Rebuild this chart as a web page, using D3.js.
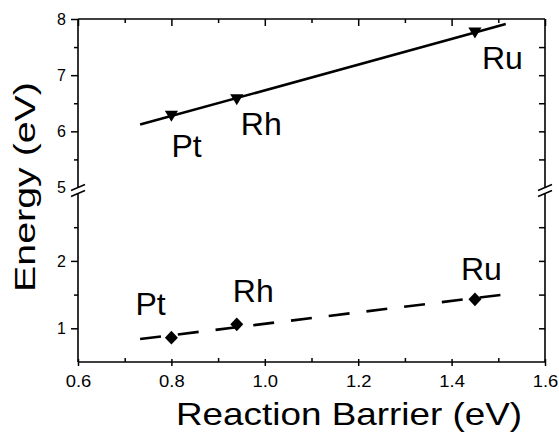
<!DOCTYPE html>
<html>
<head>
<meta charset="utf-8">
<script src="https://cdn.jsdelivr.net/npm/d3@7"></script>
<style>
  body { margin: 0; background: #fff; }
  svg { display: block; font-family: "Liberation Sans", Arial, Helvetica, sans-serif; }
</style>
</head>
<body>
<svg width="559" height="432"></svg>
<script>
// data
var metals = ["Pt", "Rh", "Ru"];
var barrier = [0.80, 0.94, 1.45];
var upperEnergy = [6.28, 6.57, 7.76];   // triangles
var lowerEnergy = [0.86, 1.06, 1.43];   // diamonds
var fitX = [0.733, 1.516];
var upperFit = [6.12, 7.91];
var lowerFit = [0.84, 1.505];

var xMajor = [0.6, 0.8, 1.0, 1.2, 1.4, 1.6];
var xMinor = [0.7, 0.9, 1.1, 1.3, 1.5];
var yLowMajor = [1, 2];
var yLowMinor = [1.5, 2.5];
var yHighMajor = [5, 6, 7, 8];
var yHighMinor = [5.5, 6.5, 7.5];

window.onload = function() {
  var svg = d3.select("svg");
  var left = 78, right = 545, top = 19, bottom = 362;
  var breakHi = 187.5, breakLo = 193.5;

  var x = d3.scaleLinear().domain([0.6, 1.6]).range([left, right]);
  var yLow = d3.scaleLinear().domain([0.5, 3.0]).range([bottom, breakLo]);
  var yHigh = d3.scaleLinear().domain([5, 8]).range([breakHi, top]);

  var fmt = d3.format(".1f");

  function axisGroup(axis, tx, ty) {
    var g = svg.append("g")
      .attr("transform", "translate(" + tx + "," + ty + ")")
      .call(axis);
    g.select(".domain").remove();
    g.attr("font-size", 16).attr("font-family", null);
    g.selectAll("line").attr("stroke", "#000").attr("stroke-width", 1.5);
    g.selectAll("text").attr("fill", "#000");
    return g;
  }

  // bottom axis
  axisGroup(d3.axisBottom(x).tickValues(xMajor).tickFormat(fmt).tickSize(4).tickPadding(10).tickSizeOuter(0), 0, bottom)
    .selectAll("text").attr("transform", "scale(1.15,1)");
  axisGroup(d3.axisTop(x).tickValues(xMinor).tickFormat("").tickSize(4).tickSizeOuter(0), 0, bottom);
  axisGroup(d3.axisTop(x).tickValues(xMajor).tickFormat("").tickSize(3).tickSizeOuter(0), 0, bottom);
  // top axis, inward
  axisGroup(d3.axisBottom(x).tickValues(xMajor).tickFormat("").tickSize(7).tickSizeOuter(0), 0, top);
  axisGroup(d3.axisBottom(x).tickValues(xMinor).tickFormat("").tickSize(4).tickSizeOuter(0), 0, top);

  // left axis, outward
  axisGroup(d3.axisLeft(yLow).tickValues(yLowMajor).tickFormat(d3.format("d")).tickSize(7).tickPadding(5).tickSizeOuter(0), left, 0);
  axisGroup(d3.axisLeft(yLow).tickValues(yLowMinor).tickFormat("").tickSize(4).tickSizeOuter(0), left, 0);
  axisGroup(d3.axisLeft(yHigh).tickValues(yHighMajor).tickFormat(d3.format("d")).tickSize(7).tickPadding(5).tickSizeOuter(0), left, 0);
  axisGroup(d3.axisLeft(yHigh).tickValues(yHighMinor).tickFormat("").tickSize(4).tickSizeOuter(0), left, 0);
  // the "5" label sits on the break, drop its tick
  svg.selectAll("g.tick").filter(function(d) { return d === 5; }).select("line").remove();

  // right axis, inward
  axisGroup(d3.axisLeft(yLow).tickValues(yLowMajor.concat(yLowMinor)).tickFormat("").tickSize(6).tickSizeOuter(0), right, 0);
  axisGroup(d3.axisLeft(yHigh).tickValues([6, 7].concat(yHighMinor)).tickFormat("").tickSize(6).tickSizeOuter(0), right, 0);

  // frame with broken verticals
  var frame = svg.append("g").attr("stroke", "#000").attr("stroke-width", 1.6).attr("fill", "none");
  frame.append("line").attr("x1", left).attr("x2", right).attr("y1", top).attr("y2", top);
  frame.append("line").attr("x1", left).attr("x2", right).attr("y1", bottom).attr("y2", bottom);
  [left, right].forEach(function(xx) {
    frame.append("line").attr("x1", xx).attr("x2", xx).attr("y1", top).attr("y2", breakHi);
    frame.append("line").attr("x1", xx).attr("x2", xx).attr("y1", breakLo).attr("y2", bottom);
    [breakHi, breakLo].forEach(function(yy) {
      frame.append("line")
        .attr("x1", xx - 7).attr("y1", yy + 3)
        .attr("x2", xx + 7).attr("y2", yy - 3)
        .attr("stroke-width", 1.4);
    });
  });

  // fit lines
  var line = d3.line().x(function(d) { return x(d[0]); });
  svg.append("path")
    .datum(d3.zip(fitX, upperFit))
    .attr("d", line.y(function(d) { return yHigh(d[1]); }))
    .attr("fill", "none").attr("stroke", "#000").attr("stroke-width", 2.6);
  svg.append("path")
    .datum(d3.zip(fitX, lowerFit))
    .attr("d", line.y(function(d) { return yLow(d[1]); }))
    .attr("fill", "none").attr("stroke", "#000").attr("stroke-width", 2.6)
    .attr("stroke-dasharray", "21,17");

  // markers: wide down-triangle and square diamond
  var triDown = { draw: function(ctx, r) {
    ctx.moveTo(-r * 0.6, -r * 0.45); ctx.lineTo(r * 0.6, -r * 0.45); ctx.lineTo(0, r * 0.55); ctx.closePath();
  } };
  var square45 = { draw: function(ctx, r) {
    ctx.moveTo(0, -r * 0.55); ctx.lineTo(r * 0.52, 0); ctx.lineTo(0, r * 0.55); ctx.lineTo(-r * 0.52, 0); ctx.closePath();
  } };
  svg.selectAll(".tri").data(metals).enter().append("path")
    .attr("d", d3.symbol().type(triDown).size(11))
    .attr("transform", function(d, i) { return "translate(" + x(barrier[i]) + "," + yHigh(upperEnergy[i]) + ")"; })
    .attr("fill", "#000");
  svg.selectAll(".dia").data(metals).enter().append("path")
    .attr("d", d3.symbol().type(square45).size(12.5))
    .attr("transform", function(d, i) { return "translate(" + x(barrier[i]) + "," + yLow(lowerEnergy[i]) + ")"; })
    .attr("fill", "#000");

  // metal labels
  var upOff = [[0, 41], [4, 36], [7, 37]];
  var lowOff = [[-36, -23], [-4, -22], [-14, -19]];
  svg.selectAll(".lu").data(metals).enter().append("text")
    .attr("x", function(d, i) { return x(barrier[i]) + upOff[i][0]; })
    .attr("y", function(d, i) { return yHigh(upperEnergy[i]) + upOff[i][1]; })
    .attr("font-size", 32).text(function(d) { return d; });
  svg.selectAll(".ll").data(metals).enter().append("text")
    .attr("x", function(d, i) { return x(barrier[i]) + lowOff[i][0]; })
    .attr("y", function(d, i) { return yLow(lowerEnergy[i]) + lowOff[i][1]; })
    .attr("font-size", 32).text(function(d) { return d; });

  // axis titles
  svg.append("text")
    .attr("x", 176).attr("y", 425)
    .attr("font-size", 32)
    .attr("textLength", 346).attr("lengthAdjust", "spacingAndGlyphs")
    .text("Reaction Barrier (eV)");
  svg.append("text")
    .attr("transform", "translate(35,292) rotate(-90)")
    .attr("font-size", 30)
    .attr("textLength", 210).attr("lengthAdjust", "spacingAndGlyphs")
    .text("Energy (eV)");
};
</script>
</body>
</html>
